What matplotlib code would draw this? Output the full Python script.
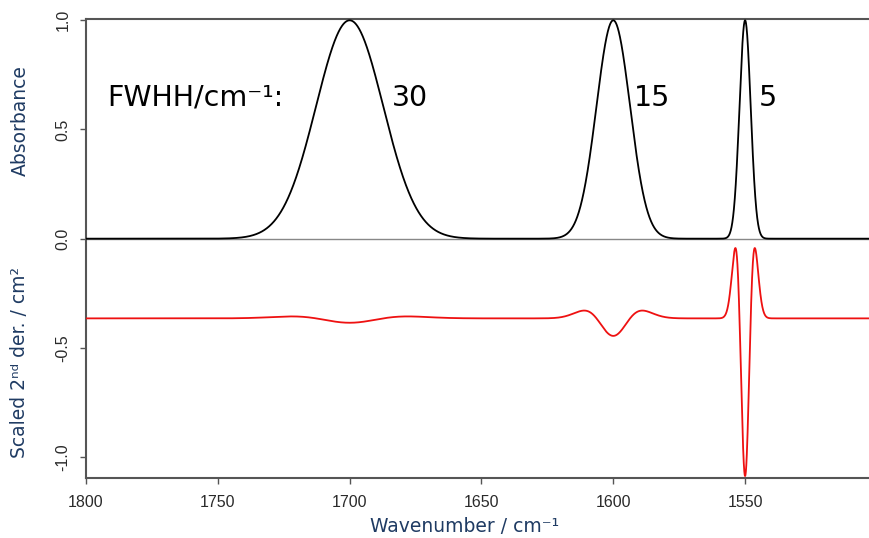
import numpy as np
import matplotlib
matplotlib.use("Agg")
import matplotlib.pyplot as plt

# Band parameters (Gaussian bands, unit height)
centers = [1700, 1600, 1550]          # cm-1
fwhh = [30, 15, 5]                    # cm-1
band_labels = ["30", "15", "5"]
label_x = [1684, 1592, 1545]          # label anchor (left edge), cm-1
label_y = 0.645

deriv_offset = -0.365                 # vertical offset of the derivative trace
deriv_scale = 3.255                   # scaling applied to the 2nd derivative

x_ticks = [1800, 1750, 1700, 1650, 1600, 1550]
y_ticks = [-1.0, -0.5, 0.0, 0.5, 1.0]

wn = np.linspace(1800, 1500, 6001)
absorb = np.zeros_like(wn)
deriv2 = np.zeros_like(wn)
for c, w in zip(centers, fwhh):
    s = w / (2 * np.sqrt(2 * np.log(2)))
    g = np.exp(-0.5 * ((wn - c) / s) ** 2)
    absorb += g
    deriv2 += g * (((wn - c) ** 2 - s ** 2) / s ** 4)

fig = plt.figure(figsize=(8.69, 5.38), dpi=100)
ax = fig.add_axes([86 / 869, 1 - 478 / 538, 1 - 86 / 869, (478 - 19) / 538])

spine_col = "#555555"
ax.axhline(0, color="#888888", lw=1.0, zorder=1)
ax.plot(wn, absorb, color="black", lw=1.3, zorder=3)
ax.plot(wn, deriv_offset + deriv_scale * deriv2, color="#ee1111", lw=1.3, zorder=3)

ax.set_xlim(1800, 1503)
ax.set_ylim(-1.096, 1.006)
ax.spines["right"].set_visible(False)
for sp in ("left", "bottom", "top"):
    ax.spines[sp].set_color(spine_col)
    ax.spines[sp].set_linewidth(1.5)

tick_font = dict(family="Liberation Sans", size=11.5)
ax.set_xticks(x_ticks)
ax.set_xticklabels([str(t) for t in x_ticks], **tick_font, color="#2a2a2a")
ax.set_yticks(y_ticks)
ax.set_yticklabels([f"{t:.1f}" for t in y_ticks], rotation=90, va="center",
                   **tick_font, color="#2a2a2a")
ax.tick_params(axis="both", direction="out", length=4, width=1, color=spine_col)
ax.tick_params(axis="x", pad=8)
ax.tick_params(axis="y", pad=7)

ax.text(1792, label_y, "FWHH/cm\u207b\u00b9:", fontsize=20.5, ha="left",
        va="center", family="DejaVu Sans")
for lx, lab in zip(label_x, band_labels):
    ax.text(lx, label_y, lab, fontsize=20.5, ha="left", va="center",
            family="DejaVu Sans")

lab_col = "#1f3b63"
fig.text(20 / 869, 1 - 121 / 538, "Absorbance", rotation=90, ha="center",
         va="center", fontsize=13.5, color=lab_col)
fig.text(20 / 869, 1 - 362 / 538, "Scaled 2\u207f\u1d48 der. / cm\u00b2", rotation=90,
         ha="center", va="center", fontsize=13.5, color=lab_col)
fig.text(465 / 869, 1 - 527 / 538, "Wavenumber / cm\u207b\u00b9", ha="center",
         va="center", fontsize=13.5, color=lab_col)

fig.savefig("out.png", dpi=100)
